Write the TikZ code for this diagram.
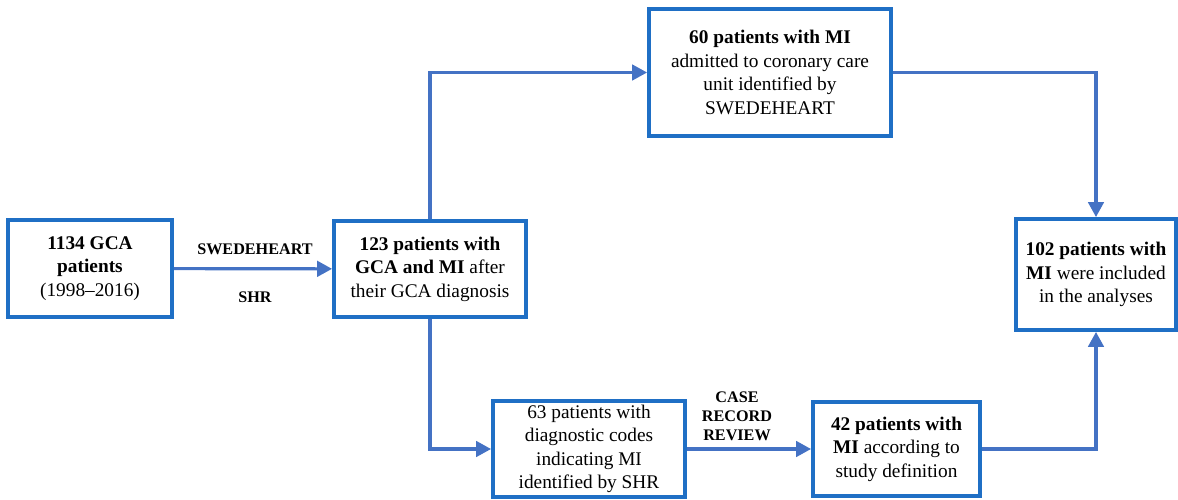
\documentclass[tikz,border=0pt]{standalone}
\usepackage{fontspec}
\setmainfont{Liberation Serif}
\usetikzlibrary{positioning, arrows.meta, calc}
\definecolor{BoxBlue}{HTML}{1F6FC5}
\definecolor{FlowBlue}{HTML}{4472C4}

\begin{document}
\begin{tikzpicture}[x=0.02cm, y=-0.02cm, >={Triangle[length=3mm, width=3.1mm]},
    stepbox/.style={draw=BoxBlue, line width=2.2pt, fill=white, align=center, inner sep=2pt,
      font=\fontsize{11}{13.4}\selectfont},
    flow/.style={draw=FlowBlue, line width=1.8pt, ->},
    tag/.style={font=\fontsize{9.2}{10.8}\selectfont\bfseries, align=center}]
  \useasboundingbox (0,0) rectangle (1178,500);
  % boxes
  \node[stepbox, minimum width=3.28cm, minimum height=1.94cm] (gca) at (90,268.5)
    {\textbf{1134 GCA}\\\textbf{patients}\\(1998--2016)};
  \node[stepbox, minimum width=3.84cm, minimum height=1.92cm] (mi) at (430,269)
    {\textbf{123 patients with}\\\textbf{GCA and MI} after\\their GCA diagnosis};
  \node[stepbox, minimum width=4.84cm, minimum height=2.54cm] (ccu) at (770,72.5)
    {\textbf{60 patients with MI}\\admitted to coronary care\\unit identified by\\SWEDEHEART};
  \node[stepbox, minimum width=3.2cm, minimum height=2.22cm] (final) at (1096,274.5)
    {\textbf{102 patients with}\\\textbf{MI} were included\\in the analyses};
  \node[stepbox, minimum width=3.84cm, minimum height=1.88cm] (codes) at (589,449)
    {63 patients with\\diagnostic codes\\indicating MI\\identified by SHR};
  \node[stepbox, minimum width=3.34cm, minimum height=1.88cm] (def) at (896.5,449)
    {\textbf{42 patients with}\\\textbf{MI} according to\\study definition};
  % labels
  \node[tag] (swh) at (255,249) {SWEDEHEART};
  \node[tag] (shr) at (255,297) {SHR};
  \node[tag] (crr) at (737,416) {CASE\\RECORD\\REVIEW};
  % connectors
  \draw[flow] (gca) -- (mi);
  \draw[flow] (mi.north) |- (ccu.west);
  \draw[flow] (ccu.east) -| (final.north);
  \draw[flow] (mi.south) |- (codes.west);
  \draw[flow] (codes) -- (def);
  \draw[flow] (def.east) -| (final.south);
\end{tikzpicture}
\end{document}
